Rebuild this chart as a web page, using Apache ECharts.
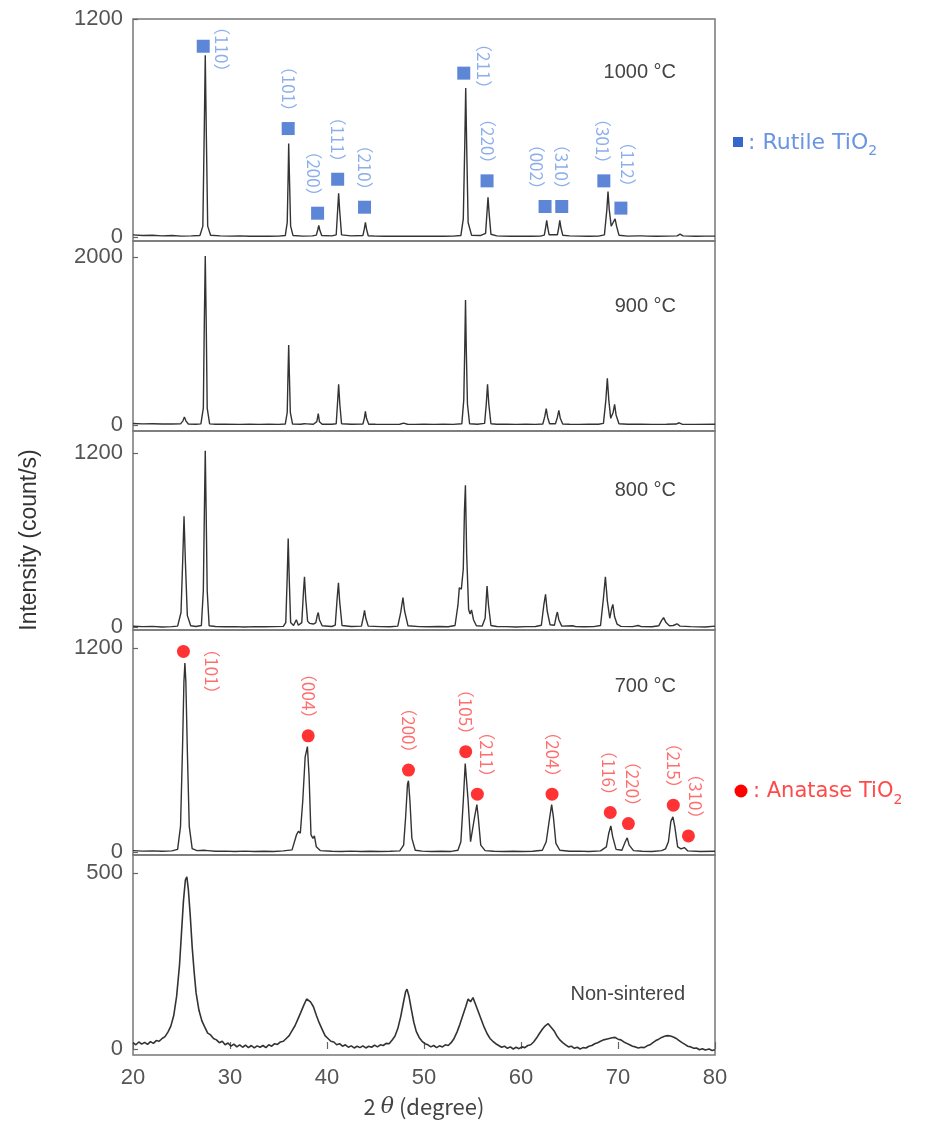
<!DOCTYPE html>
<html>
<head>
<meta charset="utf-8">
<script src="https://cdn.jsdelivr.net/npm/echarts@6/dist/echarts.min.js"></script>
<style>html,body{margin:0;padding:0;background:#fff}#c{width:934px;height:1124px}</style>
</head>
<body>
<div id="c"></div>
<script>
// ---------------- DATA ----------------
const panelNames = ['1000 °C', '900 °C', '800 °C', '700 °C', 'Non-sintered'];
const yTopTick = [1200, 2000, 1200, 1200, 500];
const xTickInterval = 10;
const xMin = 20, xMax = 80;

const trace1000 = [[20,12],[21,8],[22,10],[23,6],[24,8],[25,5],[26,6],[26.9,8],[27.2,60],[27.35,600],[27.45,1000],[27.55,600],[27.7,60],[28.0,10],[29,6],[30,5],[31,6],[32,4],[33,5],[34,4],[35,5],[35.7,8],[35.9,80],[36.0,350],[36.05,515],[36.12,350],[36.25,60],[36.5,8],[37.5,5],[38.5,6],[38.9,10],[39.05,40],[39.15,64],[39.25,40],[39.45,8],[40.5,6],[40.95,12],[41.1,150],[41.2,241],[41.3,150],[41.5,12],[42.5,6],[43.7,8],[43.85,45],[43.96,80],[44.07,45],[44.25,7],[45,5],[46,4],[47,5],[48,4],[49,5],[50,4],[51,5],[52,4],[53,5],[53.8,8],[54.05,100],[54.2,500],[54.3,820],[54.4,500],[54.55,80],[54.9,10],[55.8,8],[56.35,20],[56.5,140],[56.6,219],[56.7,140],[56.9,15],[57.5,6],[58,5],[59,4],[60,5],[61,4],[62,5],[62.4,10],[62.55,55],[62.65,91],[62.75,55],[62.9,12],[63.75,12],[63.9,55],[64.0,91],[64.1,55],[64.3,10],[65,6],[66,5],[67,4],[68,5],[68.6,12],[68.85,150],[68.97,250],[69.1,150],[69.3,60],[69.5,80],[69.7,100],[69.85,60],[70.1,10],[71,5],[72.1,6],[72.3,12],[72.5,6],[73,5],[74,4],[75,5],[76.1,6],[76.4,16],[76.7,6],[78,4],[79,5],[80,5]];

const trace900 = [[20,18],[21,14],[22,15],[23,12],[24,12],[24.9,14],[25.15,50],[25.3,97],[25.45,50],[25.7,12],[26.5,10],[27.0,14],[27.25,200],[27.35,1200],[27.45,2010],[27.55,1200],[27.65,200],[27.9,14],[28.5,10],[29.5,9],[31,8],[32,9],[33,8],[34,9],[35,8],[35.7,12],[35.9,150],[35.98,600],[36.05,951],[36.12,600],[36.22,150],[36.45,12],[37.3,10],[37.65,15],[37.77,22],[37.9,14],[38.6,10],[38.95,40],[39.1,136],[39.22,40],[39.5,10],[40.5,9],[40.95,15],[41.08,250],[41.2,485],[41.32,250],[41.5,15],[42.5,10],[43.7,12],[43.85,80],[43.96,163],[44.07,80],[44.3,10],[45,9],[46,8],[47.5,9],[47.9,22],[48.3,9],[49,8],[50,9],[51,8],[52,9],[53,8],[53.9,15],[54.1,300],[54.2,900],[54.28,1487],[54.36,900],[54.48,250],[54.7,15],[55.5,10],[56.25,20],[56.42,250],[56.55,485],[56.68,250],[56.9,15],[57.5,10],[58.5,9],[59.5,8],[60.5,9],[61.5,8],[62.25,12],[62.45,100],[62.6,194],[62.75,90],[62.95,15],[63.55,15],[63.75,90],[63.9,175],[64.05,80],[64.3,12],[65,9],[66,8],[67,9],[68,9],[68.5,20],[68.75,300],[68.9,555],[69.05,300],[69.25,80],[69.5,150],[69.65,245],[69.8,120],[70.1,15],[71,9],[72.0,10],[72.2,16],[72.4,10],[73.5,8],[75,9],[76.0,12],[76.3,27],[76.6,10],[78,8],[80,9]];

const trace800 = [[20,5],[21,2],[22,4],[23,0],[24,2],[24.6,6],[24.95,100],[25.12,450],[25.26,764],[25.4,450],[25.6,80],[25.95,8],[26.5,3],[27.05,10],[27.25,250],[27.36,800],[27.45,1215],[27.54,800],[27.65,250],[27.85,8],[28.5,3],[29.5,1],[30.5,2],[31.5,0],[32.5,2],[33.5,1],[34.5,2],[35.5,4],[35.75,30],[35.9,350],[36.0,610],[36.1,350],[36.25,30],[36.55,10],[36.84,50],[37.05,12],[37.4,30],[37.58,250],[37.68,346],[37.8,200],[38.0,40],[38.2,25],[38.4,37],[38.6,20],[38.85,30],[39.0,80],[39.1,99],[39.22,50],[39.5,8],[40.5,3],[40.85,12],[41.05,200],[41.18,305],[41.3,180],[41.55,10],[42.5,3],[43.55,6],[43.75,70],[43.87,115],[44.0,60],[44.25,6],[45.5,2],[46.5,1],[47.3,6],[47.6,100],[47.83,202],[48.0,110],[48.35,8],[49.5,2],[50.5,1],[51.5,3],[52.5,1],[53.2,10],[53.5,150],[53.64,271],[53.85,260],[54.05,400],[54.17,800],[54.27,977],[54.4,500],[54.6,120],[54.75,90],[54.9,117],[55.1,50],[55.4,8],[56.0,6],[56.3,60],[56.5,282],[56.65,150],[56.9,10],[57.5,3],[58.5,2],[59.5,0],[60.5,2],[61.5,3],[62.1,12],[62.35,150],[62.53,225],[62.7,110],[63.0,15],[63.45,12],[63.65,80],[63.75,103],[63.9,50],[64.2,6],[65.3,8],[65.6,3],[66.5,1],[67.5,2],[68.2,10],[68.5,200],[68.7,346],[68.9,180],[69.15,60],[69.35,130],[69.47,156],[69.65,70],[69.9,20],[70.3,4],[71.5,2],[72.08,10],[72.4,2],[73.5,1],[74.2,8],[74.5,45],[74.7,64],[74.95,30],[75.3,8],[75.7,10],[76.08,22],[76.4,6],[77.5,2],[79,0],[80,6]];

const trace700 = [[20,8],[21,5],[22,6],[23,4],[24,6],[24.6,15],[24.9,150],[25.1,600],[25.25,1000],[25.35,1111],[25.45,1000],[25.6,600],[25.8,150],[26.1,20],[26.6,8],[27.3,10],[27.5,16],[27.7,8],[28.5,4],[29.5,5],[30.5,3],[31.5,5],[32.5,3],[33.5,4],[34.5,3],[35.5,6],[36.4,12],[36.85,100],[37.05,122],[37.25,110],[37.5,300],[37.75,560],[37.98,620],[38.15,450],[38.35,100],[38.55,80],[38.7,94],[38.9,30],[39.3,8],[40.5,4],[41.5,3],[42.5,5],[43.5,3],[44.5,4],[45.5,3],[46.5,4],[47.5,6],[47.9,40],[48.1,200],[48.3,400],[48.4,419],[48.55,300],[48.75,80],[49.1,10],[49.8,5],[50.8,3],[51.8,4],[52.8,3],[53.5,10],[53.8,60],[54.05,300],[54.25,520],[54.35,520],[54.55,300],[54.8,60],[55.0,50],[55.2,200],[55.45,279],[55.6,200],[55.85,40],[56.3,8],[57.2,4],[58.2,3],[59.2,4],[60.2,3],[61.2,4],[62.2,10],[62.6,60],[62.9,180],[63.16,279],[63.35,200],[63.6,50],[64.0,10],[65,4],[66,5],[67,3],[68.2,6],[68.8,30],[69.05,110],[69.26,153],[69.45,90],[69.8,15],[70.4,10],[70.75,60],[70.95,83],[71.15,40],[71.6,8],[72.5,4],[73.5,3],[74.5,8],[74.9,18],[75.2,60],[75.45,180],[75.66,207],[75.85,150],[76.15,30],[76.5,18],[76.84,26],[77.2,6],[78.5,3],[80,4]];

const traceRaw = [[20,18],[20.3,12],[20.6,20],[20.9,14],[21.2,19],[21.5,13],[21.8,21],[22.1,16],[22.4,24],[22.7,22],[23.0,30],[23.3,35],[23.6,48],[23.9,65],[24.2,95],[24.5,150],[24.8,240],[25.0,330],[25.2,420],[25.4,480],[25.55,489],[25.7,455],[25.9,380],[26.1,290],[26.3,220],[26.5,160],[26.8,110],[27.1,80],[27.4,62],[27.7,45],[28.0,40],[28.3,30],[28.6,26],[28.9,18],[29.2,22],[29.5,12],[29.8,17],[30.1,8],[30.4,14],[30.7,6],[31.0,12],[31.3,5],[31.6,11],[31.9,4],[32.2,10],[32.5,3],[32.8,9],[33.1,5],[33.4,10],[33.7,4],[34.0,12],[34.3,8],[34.6,15],[34.9,13],[35.2,20],[35.5,22],[35.8,30],[36.1,38],[36.4,52],[36.7,66],[37.0,85],[37.3,104],[37.6,124],[37.9,142],[38.1,146],[38.3,134],[38.6,120],[38.9,96],[39.2,74],[39.5,56],[39.8,38],[40.1,30],[40.4,22],[40.7,20],[41.0,12],[41.3,15],[41.6,8],[41.9,12],[42.2,5],[42.5,9],[42.8,3],[43.1,8],[43.4,4],[43.7,9],[44.0,3],[44.3,8],[44.6,5],[44.9,11],[45.2,6],[45.5,12],[45.8,10],[46.1,16],[46.4,15],[46.7,25],[47.0,36],[47.3,58],[47.6,92],[47.9,135],[48.1,162],[48.25,170],[48.45,150],[48.7,112],[48.95,76],[49.2,50],[49.5,33],[49.8,22],[50.1,15],[50.4,12],[50.7,6],[51.0,10],[51.3,4],[51.6,9],[51.9,6],[52.2,12],[52.5,10],[52.8,18],[53.1,30],[53.4,48],[53.7,70],[54.0,95],[54.3,120],[54.55,142],[54.8,134],[55.05,146],[55.3,128],[55.6,106],[55.9,84],[56.2,62],[56.5,44],[56.8,30],[57.1,22],[57.4,15],[57.7,10],[58.0,5],[58.3,8],[58.6,2],[58.9,6],[59.2,0],[59.5,5],[59.8,1],[60.1,6],[60.4,4],[60.7,10],[61.0,12],[61.3,20],[61.6,31],[61.9,44],[62.2,56],[62.5,66],[62.8,72],[63.1,62],[63.4,52],[63.7,37],[64.0,26],[64.3,18],[64.6,12],[64.9,6],[65.2,8],[65.5,2],[65.8,5],[66.1,0],[66.4,4],[66.7,3],[67.0,8],[67.3,10],[67.6,15],[67.9,18],[68.2,22],[68.5,26],[68.8,28],[69.1,30],[69.4,32],[69.7,33],[70.0,28],[70.3,26],[70.6,20],[70.9,16],[71.2,12],[71.5,8],[71.8,6],[72.1,3],[72.4,5],[72.7,4],[73.0,9],[73.3,12],[73.6,18],[73.9,24],[74.2,28],[74.5,33],[74.8,36],[75.1,38],[75.4,37],[75.7,34],[76.0,30],[76.3,24],[76.6,18],[76.9,13],[77.2,8],[77.5,6],[77.8,2],[78.1,3],[78.4,-2],[78.7,1],[79.0,-3],[79.4,0],[79.7,-4],[80,-2]];

const traces = [trace1000, trace900, trace800, trace700, traceRaw];

// peak index markers (2θ, intensity of marker) and Miller indices
const rutileHkl = ['（110）','（101）','（200）','（111）','（210）','（211）','（220）','（002）','（310）','（301）','（112）'];
const rutileMarks = [[27.24,1050],[36.0,597],[39.03,131],[41.1,318],[43.87,164],[54.1,902],[56.5,309],[62.48,168],[64.2,168],[68.54,309],[70.3,159]];
const anataseHkl = ['（101）','（004）','（200）','（105）','（211）','（204）','（116）','（220）','（215）','（310）'];
const anataseMarks = [[25.2,1180],[38.06,683],[48.4,482],[54.3,590],[55.5,340],[63.2,340],[69.2,232],[71.07,167],[75.7,275],[77.26,94]];

// ---------------- LAYOUT / STYLE ----------------
const plotLeft = 133, plotRight = 715;
const panelTop = [19, 241, 431, 630, 855];
const panelBottom = [241, 431, 630, 855, 1055];
const yRange = [[-22,1200],[-71,2190],[-21,1352],[-18,1306],[-17,551]];
const rutileLabelPlace = [{side:1,dx:18,dy:3},{dx:0},{dx:-4},{dx:0},{dx:0},{side:1,dx:20,dy:-7},{dx:0},{dx:-9},{dx:0},{dx:-1},{dx:7,gap:6}];
const anataseLabelPlace = [{side:1,dx:28,dy:20},{dx:0},{dx:0},{dx:0},{dx:9},{dx:0},{dx:-2},{dx:4},{dx:0},{dx:7}];
const panelLabelPos = [[676,72],[676,306],[676,490],[676,686],[685,994]];

const tickFont = 'Liberation Sans, Arial, sans-serif';
const tickColor = '#555';
const frameColor = '#777';
const SYM = 13;

function makeLabel(text, place, color) {
  const h = SYM / 2;
  const base = {show:true, formatter:text, rotate:-90, color:color, fontSize:17,
    fontFamily:'Noto Sans CJK JP, sans-serif', verticalAlign:'middle'};
  if (place.side) {
    return Object.assign(base, {position:[h + place.dx, h + place.dy], align:'center'});
  }
  return Object.assign(base, {position:[h + (place.dx || 0), -(place.gap != null ? place.gap : 2)], align:'right'});
}

const grids = [], xAxes = [], yAxes = [], series = [];
for (let i = 0; i < 5; i++) {
  const bottom = i === 4;
  grids.push({left:plotLeft, width:plotRight-plotLeft, top:panelTop[i], height:panelBottom[i]-panelTop[i],
    show:true, borderColor:frameColor, borderWidth:1.5, backgroundColor:'transparent',
    containLabel:false, outerBoundsMode:'none'});
  xAxes.push({type:'value', gridIndex:i, min:xMin, max:xMax, interval:xTickInterval,
    axisLine:{show:false}, splitLine:{show:false},
    axisTick:{show:bottom, inside:true, length:7, lineStyle:{color:'#666', width:1.2}},
    axisLabel:{show:bottom, fontSize:22, color:tickColor, margin:12, fontFamily:tickFont},
    name: bottom ? '2 {t|θ} (degree)' : '', nameLocation:'middle', nameGap:41,
    nameTextStyle:{fontSize:22, color:'#444', fontFamily:'Noto Sans CJK JP, sans-serif',
      rich:{t:{fontSize:22, fontStyle:'italic', color:'#444', fontFamily:'DejaVu Serif, serif'}}}
  });
  yAxes.push({type:'value', gridIndex:i, min:yRange[i][0], max:yRange[i][1],
    axisLine:{show:false}, splitLine:{show:false},
    axisTick:{show:true, inside:true, length:5, customValues:[0, yTopTick[i]], lineStyle:{color:'#666', width:1.2}},
    axisLabel:{fontSize:22, color:tickColor, margin:10, fontFamily:tickFont, customValues:[0, yTopTick[i]],
      formatter: v => String(v)}
  });
  series.push({type:'line', xAxisIndex:i, yAxisIndex:i, data:traces[i], showSymbol:false, symbol:'none',
    lineStyle:{color:'#333', width: bottom ? 1.6 : 1.4}, animation:false, silent:true, z:3});
}

series.push({type:'scatter', xAxisIndex:0, yAxisIndex:0, symbol:'rect', symbolSize:SYM,
  itemStyle:{color:'#3568cc'}, animation:false, silent:true, z:5,
  data: rutileMarks.map((p,k) => ({value:p, label:makeLabel(rutileHkl[k], rutileLabelPlace[k], '#6f9be6')}))});
series.push({type:'scatter', xAxisIndex:3, yAxisIndex:3, symbol:'circle', symbolSize:SYM,
  itemStyle:{color:'#ff0000'}, animation:false, silent:true, z:5,
  data: anataseMarks.map((p,k) => ({value:p, label:makeLabel(anataseHkl[k], anataseLabelPlace[k], '#ff4a4a')}))});

const graphics = [];
panelNames.forEach((t,i) => {
  graphics.push({type:'text', x:panelLabelPos[i][0], y:panelLabelPos[i][1], z:10,
    style:{text:t, fill:'#444', font:'20px Liberation Sans, Arial, sans-serif', align:'right', verticalAlign:'middle'}});
});
graphics.push({type:'text', x:30, y:540, rotation:Math.PI/2, z:10,
  style:{text:'Intensity (count/s)', fill:'#333', font:'23px Liberation Sans, Arial, sans-serif', align:'center', verticalAlign:'middle'}});
// legends
graphics.push({type:'rect', shape:{x:733, y:137, width:10, height:10}, style:{fill:'#3568cc'}, z:10});
graphics.push({type:'text', x:748, y:143, z:10,
  style:{text:': Rutile TiO{s|2}', fill:'#6a95e0', font:'22px DejaVu Sans, sans-serif', align:'left', verticalAlign:'middle', lineHeight:30,
    rich:{s:{fontSize:14, verticalAlign:'bottom', lineHeight:14, fill:'#6a95e0', fontFamily:'DejaVu Sans, sans-serif'}}}});
graphics.push({type:'circle', shape:{cx:741, cy:791, r:6.5}, style:{fill:'#ff0000'}, z:10});
graphics.push({type:'text', x:753, y:792, z:10,
  style:{text:': Anatase TiO{s|2}', fill:'#ff4a4a', font:'21px DejaVu Sans, sans-serif', align:'left', verticalAlign:'middle', lineHeight:30,
    rich:{s:{fontSize:14, verticalAlign:'bottom', lineHeight:14, fill:'#ff4a4a', fontFamily:'DejaVu Sans, sans-serif'}}}});

const chart = echarts.init(document.getElementById('c'), null, {renderer:'canvas', width:934, height:1124});
chart.setOption({
  animation:false,
  backgroundColor:'#fff',
  grid:grids, xAxis:xAxes, yAxis:yAxes, series:series, graphic:graphics
});
</script>
</body>
</html>
